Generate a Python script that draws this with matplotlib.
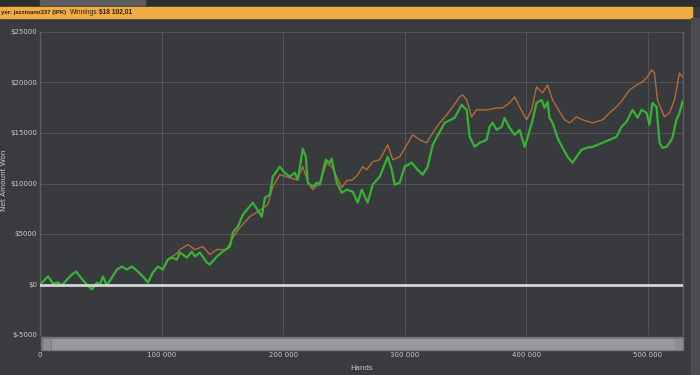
import matplotlib
matplotlib.use("Agg")
import matplotlib.pyplot as plt
from matplotlib.patches import Rectangle
from matplotlib.ticker import FuncFormatter, MultipleLocator

# hands (thousands) / net won ($) - green line (net amount won)
green_hands = [0, 6.6, 10.7, 14.8, 18.1, 22.2, 26.3, 29.6, 32.9, 37.0, 42.7, 46.9, 49.3, 51.8,
               55.1, 59.2, 63.3, 67.4, 71.5, 75.6, 80.6, 84.7, 88.8, 92.9, 97.0, 101.1, 105.2,
               108.5, 112.6, 115.1, 120.8, 124.9, 127.4, 131.5, 137.3, 139.7, 145.5, 150.4,
               156.2, 158.7, 162.8, 166.9, 175.1, 182.5, 185.0, 189.1, 191.5, 197.3, 201.4,
               205.5, 209.6, 212.1, 216.2, 218.7, 220.3, 224.4, 227.7, 230.2, 235.1, 238.4,
               240.0, 244.1, 248.2, 252.4, 257.3, 261.4, 264.7, 269.6, 273.7, 279.5, 286.1,
               289.4, 291.8, 295.9, 300.0, 305.8, 310.7, 314.8, 318.9, 323.1, 328.8, 332.9,
               341.1, 346.9, 351.0, 353.5, 357.6, 361.7, 367.4, 369.9, 372.4, 375.7, 379.8,
               382.2, 386.3, 390.5, 394.6, 398.7, 401.1, 405.3, 408.5, 412.7, 415.1, 417.6,
               419.2, 421.7, 425.8, 429.9, 434.0, 438.1, 441.4, 445.5, 449.6, 454.6, 458.7,
               462.8, 468.6, 474.3, 478.4, 482.5, 487.5, 491.6, 494.9, 499.0, 501.4, 503.9,
               507.2, 509.7, 512.1, 515.4, 517.9, 520.3, 523.6, 526.1, 528.6]
green_won = [0, 790, 99, 198, -99, 494, 988, 1284, 790, 198, -494, 198, 0, 790,
             -99, 692, 1482, 1778, 1482, 1778, 1284, 790, 198, 1186, 1778, 1482, 2470,
             2668, 2470, 3162, 2668, 3260, 2766, 3162, 2174, 1976, 2766, 3260,
             3754, 5138, 5730, 6916, 8102, 6718, 8596, 8892, 10670, 11658, 11066,
             10670, 11066, 10374, 13437, 12646, 10078, 9682, 10078, 9880, 12350, 12054,
             12449, 10078, 9090, 9386, 9188, 8102, 9386, 8102, 9880, 10670, 12646,
             11362, 9880, 10078, 11658, 12054, 11362, 10868, 11658, 13832, 15116, 16006,
             16500, 17784, 17290, 14622, 13634, 14030, 14326, 15610, 16006, 15314, 15610,
             16500, 15512, 14820, 15314, 13634, 14524, 16302, 17982, 18278, 17488, 18080,
             16500, 16006, 14524, 13536, 12646, 12054, 12646, 13338, 13536, 13634, 13832,
             14030, 14326, 14622, 15610, 16104, 17290, 16500, 17290, 16994, 15808, 17982,
             17586, 14030, 13536, 13634, 14030, 14524, 16302, 16994, 18102]

# orange line
orange_hands = [0, 6.6, 10.7, 14.8, 18.1, 22.2, 26.3, 29.6, 32.9, 37.0, 42.7, 46.9, 49.3, 51.8,
                55.1, 59.2, 63.3, 67.4, 71.5, 75.6, 80.6, 84.7, 88.8, 92.9, 97.0, 101.1, 105.2,
                108.5, 112.6, 115.1, 121.7, 127.4, 134.0, 139.7, 145.5, 153.7, 158.7, 164.4,
                172.6, 179.2, 187.4, 191.5, 197.3, 205.5, 211.3, 216.2, 220.3, 224.4, 230.2,
                235.9, 240.0, 244.1, 248.2, 252.4, 257.3, 261.4, 265.5, 268.8, 273.7, 279.5,
                286.1, 290.2, 295.9, 304.2, 306.6, 312.4, 318.1, 323.1, 328.8, 334.6, 339.5,
                345.3, 347.7, 351.0, 355.1, 359.2, 367.4, 375.7, 380.6, 386.3, 390.5, 394.6,
                400.3, 404.4, 408.5, 413.5, 417.6, 421.7, 427.5, 431.6, 435.7, 441.4, 446.4,
                454.6, 462.8, 468.6, 474.3, 479.3, 485.0, 490.8, 495.7, 499.8, 503.1, 505.5,
                508.0, 511.3, 513.8, 517.9, 522.0, 526.1, 528.6]
orange_won = [0, 790, 99, 198, -99, 494, 988, 1284, 790, 198, -494, 198, 0, 790,
              -99, 790, 1482, 1778, 1482, 1778, 1284, 790, 198, 1186, 1778, 1482, 2470,
              2766, 3063, 3458, 3952, 3458, 3754, 2964, 3458, 3458, 4644, 5632,
              6718, 7212, 7904, 9682, 10868, 10572, 10374, 11658, 10176, 9386, 10078,
              12054, 11658, 10670, 9584, 10275, 10374, 10868, 11658, 11362, 12152, 12350,
              13832, 12350, 12646, 14326, 14820, 14326, 14030, 15018, 16006, 16796, 17586,
              18574, 18772, 18278, 16598, 17290, 17290, 17488, 17488, 17982, 18574, 17586,
              16302, 17290, 19562, 18970, 19760, 18278, 17092, 16302, 16006, 16598, 16302,
              16006, 16302, 16994, 17586, 18278, 19266, 19760, 20056, 20550, 21242, 20946,
              18278, 17290, 16598, 16994, 18278, 20946, 20550]

player = "yer: jazzmann337 (IPK)"
winnings = "Winnings:"
amount = "$18 102,01"

bg = "#393b3f"
txt = "#c9cbcd"

fig = plt.figure(figsize=(7, 3.75), dpi=100, facecolor=bg)

# top strip and title bar
fig.patches.append(Rectangle((0, 1 - 6 / 375), 1, 6 / 375, transform=fig.transFigure,
                             color="#2b2d30", zorder=0))
fig.patches.append(Rectangle((40 / 700, 1 - 5 / 375), 105 / 700, 5 / 375, transform=fig.transFigure,
                             color="#5a5c60", zorder=1))
fig.patches.append(Rectangle((0, 1 - 18 / 375), 692 / 700, 11 / 375, transform=fig.transFigure,
                             color="#f1ac44", zorder=1))
bar_font = dict(color="#2a2214", va="center", family="Liberation Sans")
fig.text(1 / 700, 1 - 12.5 / 375, player, fontsize=4.3, fontweight="bold", **bar_font)
fig.text(70 / 700, 1 - 12.5 / 375, winnings, fontsize=4.8, **bar_font)
fig.text(99 / 700, 1 - 12.5 / 375, amount, fontsize=4.8, fontweight="bold", **bar_font)
# right side panel
fig.patches.append(Rectangle((691 / 700, 0), 9 / 700, 1 - 18 / 375, transform=fig.transFigure,
                             color="#4a4c50", zorder=1))

ax = fig.add_axes([40 / 700, 1 - 335 / 375, 643 / 700, 303 / 375])
ax.set_facecolor("#383a3e")

ax.plot([h * 1000 for h in orange_hands], orange_won, color="#b36c38", lw=1.0, zorder=3)
ax.plot([h * 1000 for h in green_hands], green_won, color="#35b335", lw=1.6, zorder=4)
ax.axhline(0, color="#d6d6d6", lw=2, zorder=5)

ax.set_xlim(0, 529000)
ax.set_ylim(-5000, 25000)
ax.xaxis.set_major_locator(MultipleLocator(100000))
ax.yaxis.set_major_locator(MultipleLocator(5000))
ax.xaxis.set_major_formatter(FuncFormatter(
    lambda v, p: "0" if v == 0 else "{:,}".format(int(v)).replace(",", " ")))
ax.yaxis.set_major_formatter(FuncFormatter(lambda v, p: "${}".format(int(v))))
ax.grid(True, color="#52555a", lw=0.7)
ax.set_axisbelow(True)
ax.tick_params(length=0, labelsize=5, colors=txt)
ax.tick_params(axis="x", pad=12)
ax.tick_params(axis="y", pad=2)
for side, sp in ax.spines.items():
    sp.set_color("#5c5f63")
    sp.set_linewidth(1)
ax.spines["top"].set_visible(False)
ax.spines["bottom"].set_visible(False)
ax.set_xlabel("Hands", fontsize=5.2, color=txt)
ax.set_ylabel("Net Amount Won", fontsize=5.2, color=txt)
ax.xaxis.set_label_coords(0.5, -30 / 303, transform=ax.transAxes)
ax.yaxis.set_label_coords(-33 / 643, 155 / 303, transform=ax.transAxes)

# scrollbar under the plot
fig.patches.append(Rectangle((41 / 700, 1 - 350 / 375), 642 / 700, 13 / 375, transform=fig.transFigure,
                             color="#6f7276", zorder=2))
fig.patches.append(Rectangle((52 / 700, 1 - 348.5 / 375), 622 / 700, 10 / 375, transform=fig.transFigure,
                             color="#97999c", zorder=3))
fig.patches.append(Rectangle((43 / 700, 1 - 348.5 / 375), 7 / 700, 10 / 375, transform=fig.transFigure,
                             color="#8a8c8f", zorder=3))
fig.patches.append(Rectangle((675 / 700, 1 - 348.5 / 375), 7 / 700, 10 / 375, transform=fig.transFigure,
                             color="#8a8c8f", zorder=3))

fig.savefig("out.png", dpi=100, facecolor=bg)
